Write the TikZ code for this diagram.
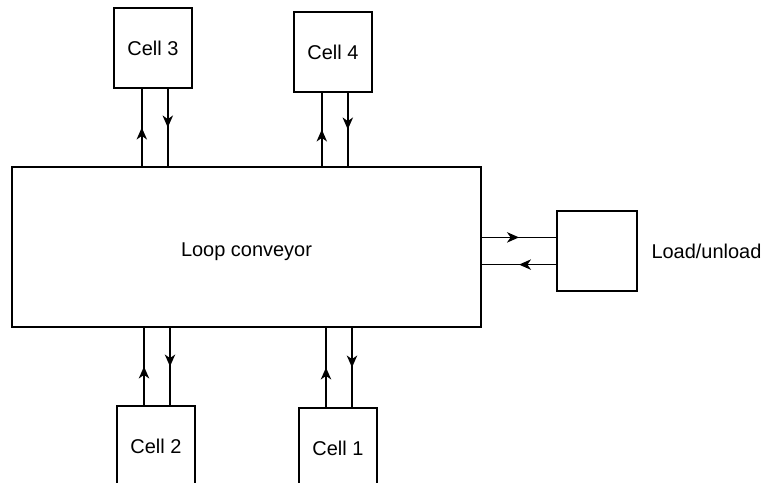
\documentclass[tikz,border=0pt]{standalone}
\usepackage{fontspec}
\setmainfont{Liberation Sans}
\usepackage{tikz}
\usetikzlibrary{positioning,arrows.meta,calc,decorations.markings}

\tikzset{
  cellbox/.style={draw, line width=1.1pt, minimum width=1.95cm, minimum height=2.0cm},
  midarrow/.style={line width=1.1pt, postaction={decorate},
    decoration={markings, mark=at position 0.5 with {\arrow{Stealth[length=3mm,width=2.6mm,inset=0.9mm]}}}}
}

\begin{document}
\begin{tikzpicture}[every node/.style={font=\fontsize{14.2pt}{17pt}\selectfont, align=center}]

  \useasboundingbox (0,0) rectangle (19.075,-12.075);

  %% ─── Conveyor ───────────────────────────────────────────────────────────
  \node[draw, line width=1.1pt, minimum width=11.725cm, minimum height=4.0cm] (main)
      at (6.1625, -6.175) {};
  \node[yshift=-0.12cm] (mainlbl) at (main.center) {Loop conveyor};

  %% ─── Cells ──────────────────────────────────────────────────────────────
  \node[cellbox] (cell3) at (3.825, -1.2) {Cell 3};
  \node[cellbox] (cell4) at (8.325, -1.3) {Cell 4};
  \node[cellbox] (cell2) at (3.9, -11.15) {Cell 2};
  \node[cellbox] (cell1) at (8.45, -11.2) {Cell 1};

  %% ─── Load/unload station ────────────────────────────────────────────────
  \node[cellbox, minimum width=2.0cm] (load) at (14.925, -6.275) {};
  \node[right=0.22cm of load] (loadlbl) {Load/unload};

  %% cell ports
  \coordinate (c3up) at ([xshift=-0.28cm]cell3.south);
  \coordinate (c3dn) at ([xshift=0.37cm]cell3.south);
  \coordinate (c4up) at ([xshift=-0.28cm]cell4.south);
  \coordinate (c4dn) at ([xshift=0.37cm]cell4.south);
  \coordinate (c2up) at ([xshift=-0.3cm]cell2.north);
  \coordinate (c2dn) at ([xshift=0.35cm]cell2.north);
  \coordinate (c1up) at ([xshift=-0.3cm]cell1.north);
  \coordinate (c1dn) at ([xshift=0.35cm]cell1.north);
  \coordinate (ldin) at ([yshift=0.34cm]load.west);
  \coordinate (ldout) at ([yshift=-0.34cm]load.west);

  %% upper cells
  \draw[midarrow] (c3up |- main.north) -- (c3up);
  \draw[midarrow] (c3dn) -- (c3dn |- main.north);
  \draw[midarrow] (c4up |- main.north) -- (c4up);
  \draw[midarrow] (c4dn) -- (c4dn |- main.north);
  %% lower cells
  \draw[midarrow] (c2up) -- (c2up |- main.south);
  \draw[midarrow] (c2dn |- main.south) -- (c2dn);
  \draw[midarrow] (c1up) -- (c1up |- main.south);
  \draw[midarrow] (c1dn |- main.south) -- (c1dn);
  %% load/unload
  \draw[midarrow] (ldin -| main.east) -- (ldin);
  \draw[midarrow] (ldout) -- (ldout -| main.east);

\end{tikzpicture}
\end{document}
